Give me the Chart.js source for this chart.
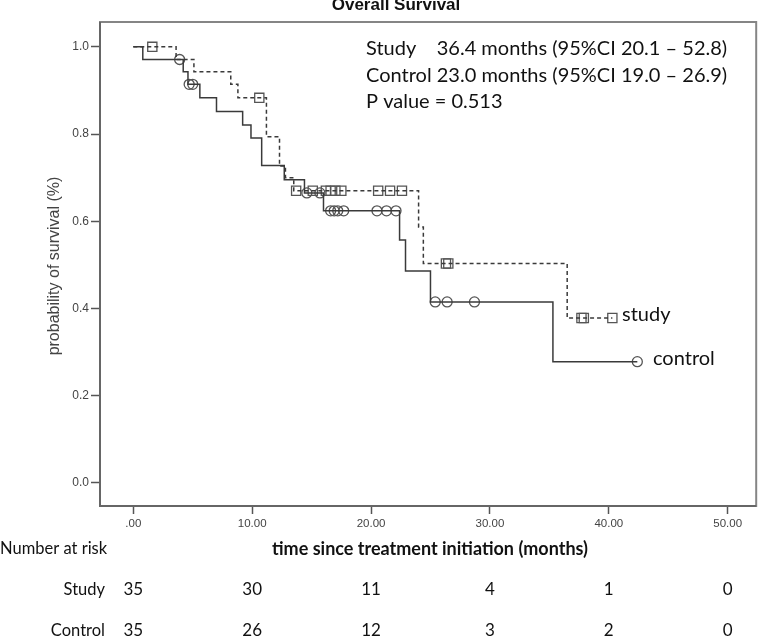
<!DOCTYPE html>
<html>
<head>
<meta charset="utf-8">
<script src="https://cdn.jsdelivr.net/npm/chart.js@4.4.1/dist/chart.umd.min.js"></script>
<style>
  html, body { margin: 0; padding: 0; background: #fff; }
  #wrap { width: 764px; height: 639px; position: relative; }
</style>
</head>
<body>
<div id="wrap"><canvas id="km"></canvas></div>
<script>
// --- Kaplan-Meier steps (time in months, survival after the event) ---
const studyTimes = [0, 3.6, 5.1, 8.2, 8.8, 11.2, 12.3, 12.8, 13.5, 24.0, 24.4, 36.5, 40.3];
const studySurv  = [1.0, 0.971, 0.943, 0.914, 0.883, 0.794, 0.727, 0.700, 0.670, 0.587, 0.503, 0.378, 0.378];
const controlTimes = [0, 0.8, 4.2, 4.6, 5.6, 7.0, 9.2, 9.9, 10.8, 12.7, 14.4, 16.0, 22.4, 22.9, 25.0, 35.3, 42.4];
const controlSurv  = [1.0, 0.971, 0.943, 0.914, 0.883, 0.852, 0.821, 0.791, 0.728, 0.695, 0.665, 0.624, 0.557, 0.486, 0.415, 0.278, 0.278];

// censored observations
const studyCensor   = [1.6, 10.6, 13.7, 15.1, 16.2, 16.6, 17.0, 17.5, 20.6, 21.6, 22.6, 26.3, 26.5, 37.7, 37.9, 40.3];
const controlCensor = [3.9, 4.7, 5.0, 14.6, 15.7, 16.6, 16.9, 17.2, 17.7, 20.5, 21.3, 22.1, 25.4, 26.4, 28.7, 42.4];

// axes
const xTicks = [0, 10, 20, 30, 40, 50];
const yTicks = [0, 0.2, 0.4, 0.6, 0.8, 1.0];

// number at risk table
const riskGroups = ['Study', 'Control'];
const riskStudy   = [35, 30, 11, 4, 1, 0];
const riskControl = [35, 26, 12, 3, 2, 0];

const statLines = [
    'Study    36.4 months (95%CI 20.1 \u2013 52.8)',
    'Control 23.0 months (95%CI 19.0 \u2013 26.9)',
    'P value = 0.513'
];

// survival at a censor time = value of the step at that time
function survAt(times, surv, t) {
    let s = surv[0];
    times.forEach((tt, i) => { if (tt <= t) s = surv[i]; });
    return s;
}
const toPts = (times, surv) => times.map((t, i) => ({ x: t, y: surv[i] }));
const censorPts = (c, times, surv) => c.map(t => ({ x: t, y: survAt(times, surv, t) }));

const LINE = '#3a3a3a';
const MARK = '#555';
const SANS = "'Liberation Sans', Arial, sans-serif";
const CAL = "Lato, 'Open Sans', sans-serif";

// --- Frame, titles, annotations, risk table ---
const decorPlugin = {
    id: 'decor',
    afterDraw(chart) {
        const { ctx, chartArea: a, scales } = chart;
        const x = scales.x;
        ctx.save();
        // plot frame
        ctx.strokeStyle = '#858585';
        ctx.lineWidth = 2;
        ctx.strokeRect(a.left, a.top, a.right - a.left, a.bottom - a.top);
        ctx.strokeStyle = '#666';
        ctx.beginPath();
        ctx.moveTo(a.left, a.top); ctx.lineTo(a.left, a.bottom); ctx.lineTo(a.right, a.bottom);
        ctx.stroke();

        // chart title (clipped at the top as in the source)
        ctx.fillStyle = '#111';
        ctx.font = "bold 17px " + SANS;
        ctx.textAlign = 'center';
        ctx.textBaseline = 'middle';
        ctx.fillText('Overall Survival', 396, 5);

        // axis titles
        ctx.fillStyle = '#444';
        ctx.font = "16px " + SANS;
        ctx.save();
        ctx.translate(55, 266);
        ctx.rotate(-Math.PI / 2);
        ctx.fillText('probability of survival (%)', 0, 0);
        ctx.restore();

        ctx.fillStyle = '#111';
        ctx.font = "bold 18px " + CAL;
        ctx.fillText('time since treatment initiation (months)', 430, 549);

        // median survival text
        ctx.font = "20px " + CAL;
        ctx.textAlign = 'left';
        statLines.forEach((s, i) => ctx.fillText(s, 366, 49 + i * 26.5, 367));

        // curve labels
        ctx.font = "20px " + CAL;
        ctx.fillText('study', 622, 315);
        ctx.fillText('control', 653, 359);

        // number at risk
        ctx.font = "16.5px " + CAL;
        ctx.textAlign = 'left';
        ctx.fillText('Number at risk', 0, 549);
        ctx.textAlign = 'right';
        ctx.fillText(riskGroups[0], 105, 590);
        ctx.fillText(riskGroups[1], 105, 631);
        ctx.textAlign = 'center';
        ctx.font = "17px " + CAL;
        xTicks.forEach((v, i) => {
            const px = x.getPixelForValue(v);
            ctx.fillText(String(riskStudy[i]), px, 590);
            ctx.fillText(String(riskControl[i]), px, 631);
        });
        ctx.restore();
    }
};

new Chart(document.getElementById('km'), {
    type: 'line',
    data: {
        datasets: [
            {
                label: 'study',
                data: toPts(studyTimes, studySurv),
                stepped: 'before',
                borderColor: LINE,
                borderWidth: 1.5,
                borderDash: [4, 3],
                pointRadius: 0,
                fill: false
            },
            {
                label: 'control',
                data: toPts(controlTimes, controlSurv),
                stepped: 'before',
                borderColor: LINE,
                borderWidth: 1.5,
                pointRadius: 0,
                fill: false
            },
            {
                label: 'study censored',
                data: censorPts(studyCensor, studyTimes, studySurv),
                showLine: false,
                pointStyle: 'rect',
                pointRadius: 6.5,
                borderColor: MARK,
                borderWidth: 1.3,
                backgroundColor: 'rgba(0,0,0,0)'
            },
            {
                label: 'control censored',
                data: censorPts(controlCensor, controlTimes, controlSurv),
                showLine: false,
                pointStyle: 'circle',
                pointRadius: 5,
                borderColor: MARK,
                borderWidth: 1.3,
                backgroundColor: 'rgba(0,0,0,0)'
            }
        ]
    },
    options: {
        responsive: true,
        maintainAspectRatio: false,
        animation: false,
        events: [],
        layout: { padding: { left: 0, top: 22, right: 7, bottom: 0 } },
        plugins: {
            legend: { display: false },
            tooltip: { enabled: false }
        },
        scales: {
            x: {
                type: 'linear',
                min: -2.8,
                max: 52.4,
                afterBuildTicks: s => { s.ticks = xTicks.map(v => ({ value: v })); },
                afterFit: s => { s.height = 133; },
                border: { display: false },
                grid: { drawOnChartArea: false, drawTicks: true, tickLength: 8, tickColor: '#555', tickWidth: 1.5 },
                ticks: {
                    padding: 3,
                    color: '#444',
                    font: { family: SANS, size: 11.5 },
                    maxRotation: 0,
                    callback: v => v === 0 ? '.00' : v.toFixed(2)
                }
            },
            y: {
                type: 'linear',
                min: -0.053,
                max: 1.057,
                afterBuildTicks: s => { s.ticks = yTicks.map(v => ({ value: v })); },
                afterFit: s => { s.width = 100; },
                border: { display: false },
                grid: { drawOnChartArea: false, drawTicks: true, tickLength: 9, tickColor: '#555', tickWidth: 1.5 },
                ticks: {
                    padding: 2,
                    color: '#444',
                    font: { family: SANS, size: 12 },
                    callback: v => v.toFixed(1)
                }
            }
        }
    },
    plugins: [decorPlugin]
});
</script>
</body>
</html>
